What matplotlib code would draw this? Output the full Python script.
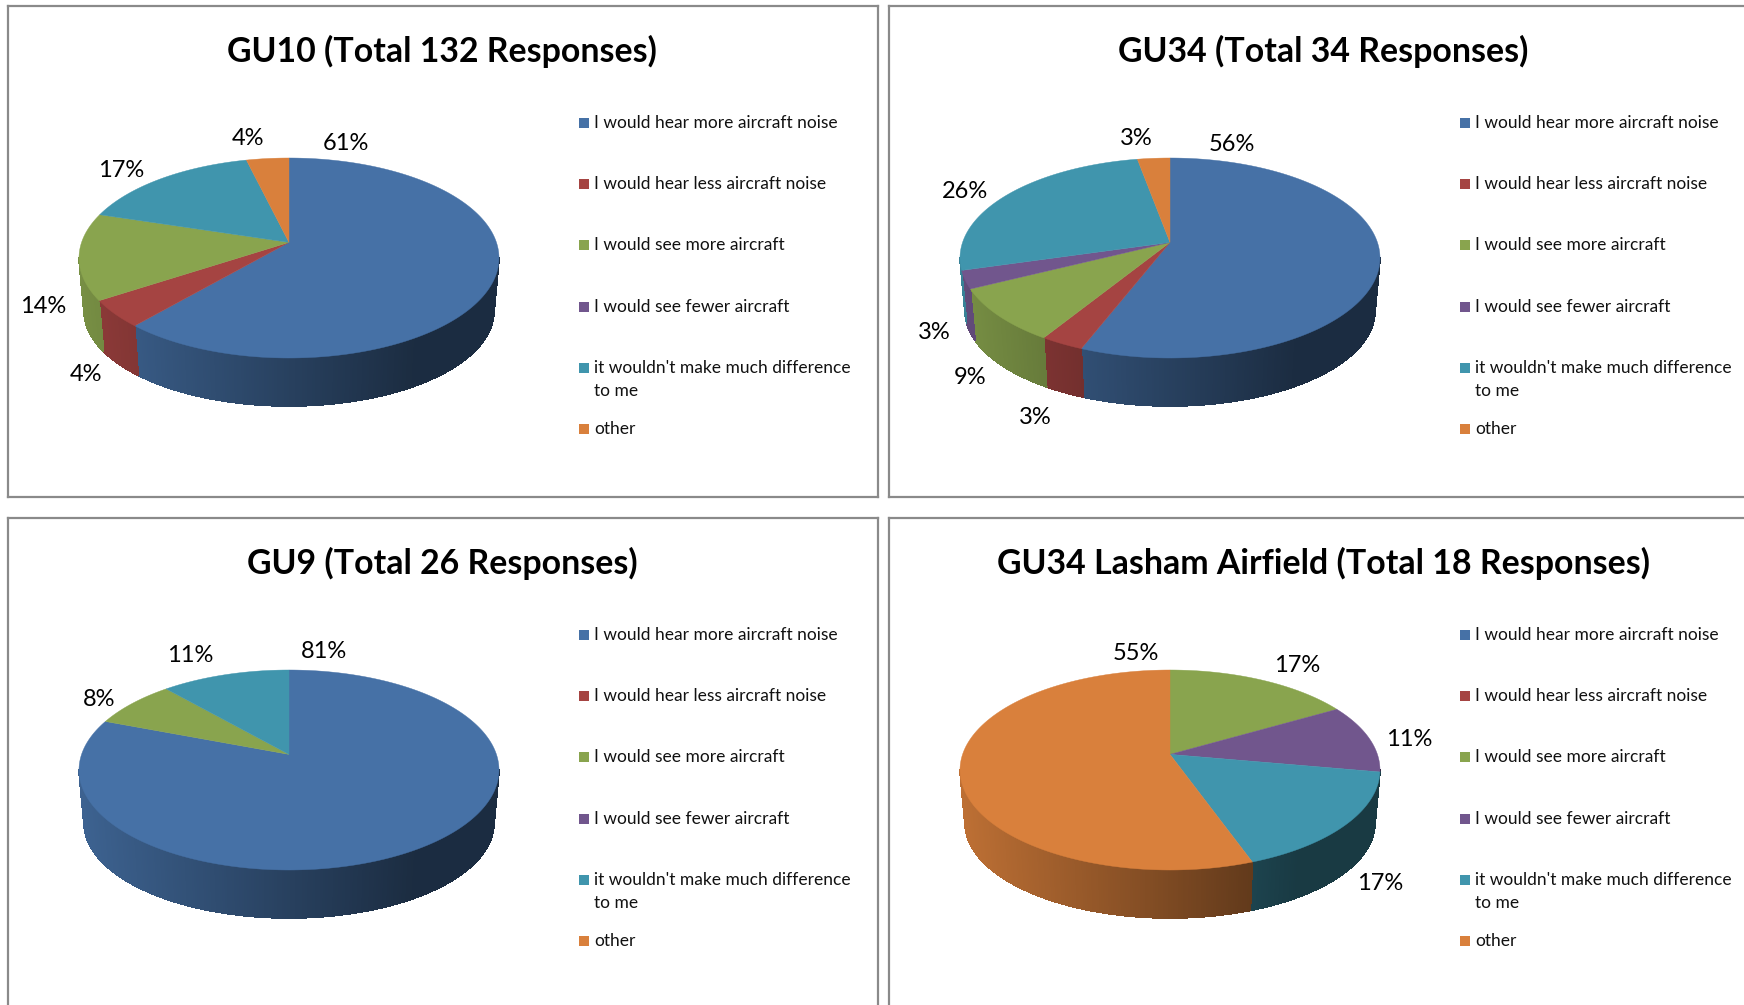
import numpy as np
import matplotlib
matplotlib.use('Agg')
import matplotlib.pyplot as plt
from matplotlib.collections import PolyCollection
from matplotlib.colors import to_rgb

plt.rcParams['font.family'] = ['Lato', 'DejaVu Sans']

legend_labels = ['I would hear more aircraft noise', 'I would hear less aircraft noise',
                 'I would see more aircraft', 'I would see fewer aircraft',
                 "it wouldn't make much difference\nto me", 'other']
colors = ['#4671A6', '#A54442', '#89A44E', '#71568D', '#4095AD', '#D9803C']

titles = ['GU10 (Total 132 Responses)', 'GU34 (Total 34 Responses)',
          'GU9 (Total 26 Responses)', 'GU34 Lasham Airfield (Total 18 Responses)']
# slice sizes, the printed labels are rounded
gu10 = [61.4, 4.4, 14.0, 0, 16.4, 3.8]
gu34 = [55.9, 2.9, 8.8, 2.9, 26.5, 2.9]
gu9 = [80.8, 0, 7.7, 0, 11.5, 0]
lasham = [0, 0, 16.7, 11.1, 16.7, 55.5]
panels = [gu10, gu34, gu9, lasham]

gu10_labels = ['61%', '4%', '14%', None, '17%', '4%']
gu34_labels = ['56%', '3%', '9%', '3%', '26%', '3%']
gu9_labels = ['81%', None, '8%', None, '11%', None]
lasham_labels = [None, None, '17%', '11%', '17%', '55%']
panel_labels = [gu10_labels, gu34_labels, gu9_labels, lasham_labels]

# where each label sits inside its panel, in pixels, one per series (None = no slice)
label_pos = [
    [(338, 137), (78, 368), (35, 300), None, (113, 164), (240, 132)],
    [(343, 138), (146, 411), (81, 371), (45, 326), (76, 185), (247, 132)],
    [(316, 133), None, (91, 181), None, (182, 137), None],
    [None, None, (408, 147), (520, 221), (491, 366), (247, 135)],
]
origins = [(8, 6), (889, 6), (8, 518), (889, 518)]

W, H = 1744, 1005
PW, PH = 870, 491
CX, CY = 281, 252      # centre of the top ellipse
RX, RY = 210, 100
RX2, RY2 = 205, 95     # bottom ellipse is a bit smaller
CY2 = 305
C = 0.156              # perspective shift of the pie's apex


def project(theta):
    x = np.sin(theta)
    y = np.cos(theta)
    yp = (y + C) / (1 + C * y)
    xp = x * np.sqrt(1 - C ** 2) / (1 + C * y)
    return xp, yp


def shade(u):
    return np.interp(u, [-1, 0.6, 1], [0.87, 0.39, 0.39])


def draw_pie(ax, values):
    total = sum(values)
    edges = np.cumsum([0] + list(values)) / total * 2 * np.pi

    # side wall first
    polys = []
    cols = []
    for i, v in enumerate(values):
        if v == 0:
            continue
        t = np.linspace(edges[i], edges[i + 1], max(int(v * 6), 4))
        xp, yp = project(t)
        for j in range(len(t) - 1):
            if yp[j] > 0 and yp[j + 1] > 0:
                continue
            polys.append([(CX + RX * xp[j], CY - RY * yp[j]),
                          (CX + RX * xp[j + 1], CY - RY * yp[j + 1]),
                          (CX + RX2 * xp[j + 1], CY2 - RY2 * yp[j + 1]),
                          (CX + RX2 * xp[j], CY2 - RY2 * yp[j])])
            f = shade((xp[j] + xp[j + 1]) / 2)
            cols.append(tuple(np.array(to_rgb(colors[i])) * f))
    ax.add_collection(PolyCollection(polys, facecolors=cols, edgecolors=cols,
                                     linewidths=0.5, antialiaseds=False))

    # top face
    for i, v in enumerate(values):
        if v == 0:
            continue
        t = np.linspace(edges[i], edges[i + 1], max(int(v * 4), 6))
        xp, yp = project(t)
        px = np.r_[CX, CX + RX * xp]
        py = np.r_[CY - RY * C, CY - RY * yp]
        ax.fill(px, py, color=colors[i], lw=0.3)


fig = plt.figure(figsize=(W / 100, H / 100), dpi=100)

for k, values in enumerate(panels):
    ox, oy = origins[k]
    ax = fig.add_axes([ox / W, 1 - (oy + PH) / H, PW / W, PH / H])
    ax.set_xlim(0, PW)
    ax.set_ylim(PH, 0)
    ax.set_xticks([])
    ax.set_yticks([])
    for s in ax.spines.values():
        s.set_color('#8a8a8a')
        s.set_linewidth(1.6)

    draw_pie(ax, values)

    for i, lab in enumerate(panel_labels[k]):
        if lab is not None:
            ax.text(label_pos[k][i][0], label_pos[k][i][1], lab, fontsize=17,
                    ha='center', va='center', color='black')

    ax.text(434, 45, titles[k], fontsize=24.4, fontweight='bold', ha='center', va='center')

    for i, lab in enumerate(legend_labels):
        y = 117 + i * 61.2
        ax.scatter([576], [y], marker='s', s=62, color=colors[i], linewidths=0)
        for n, part in enumerate(lab.split('\n')):
            ax.text(586, y + n * 23, part, fontsize=12.5, ha='left', va='center', color='#111111')

fig.savefig('out.png', dpi=100)
